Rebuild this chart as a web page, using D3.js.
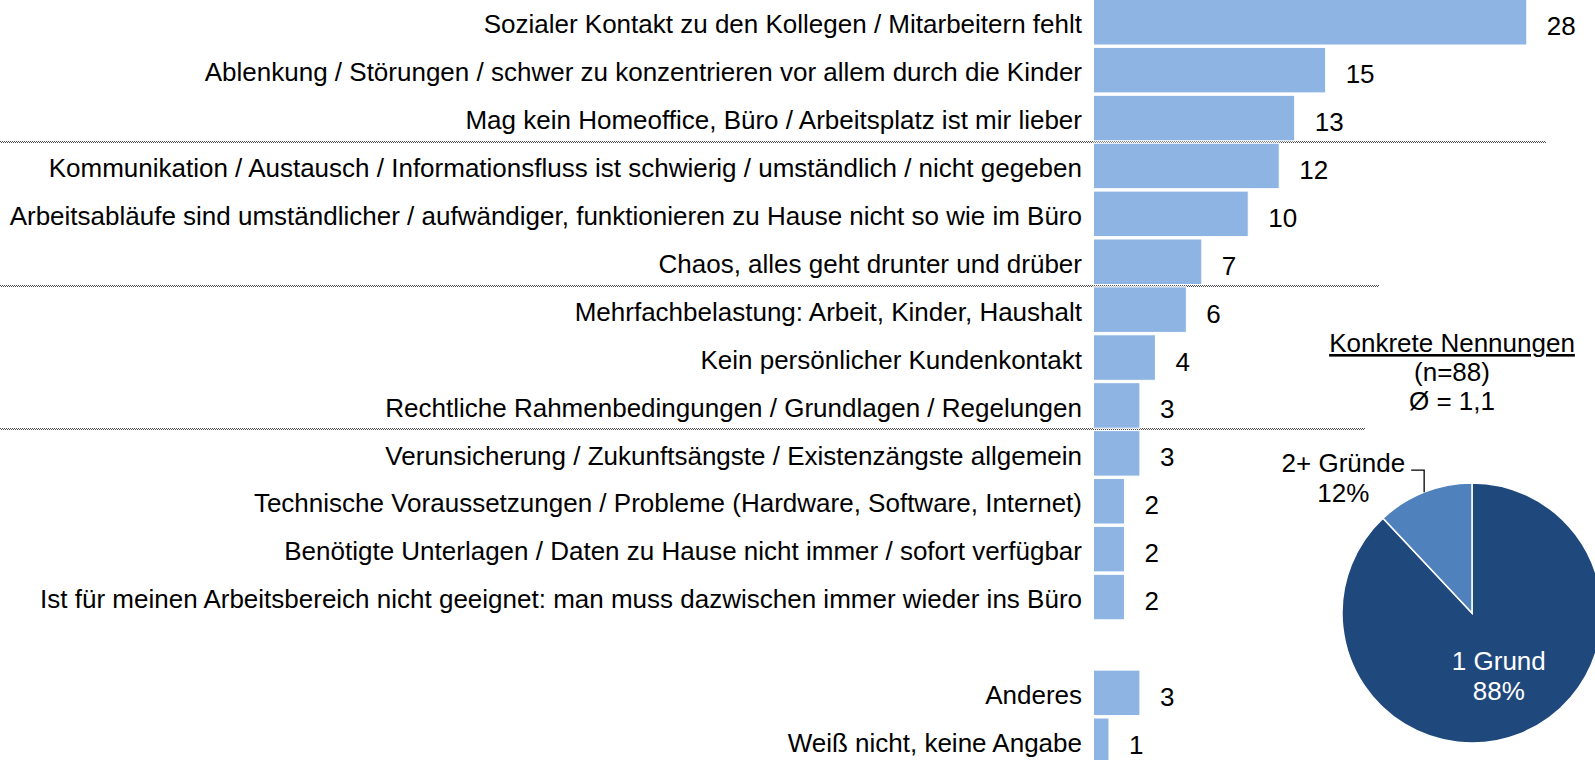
<!DOCTYPE html>
<html lang="de">
<head>
<meta charset="utf-8">
<script src="https://cdn.jsdelivr.net/npm/d3@7"></script>
<style>
  html, body { margin: 0; padding: 0; background: #fff; }
  svg { display: block; font-family: "Liberation Sans", Arial, sans-serif; }
</style>
</head>
<body>
<svg id="chart" width="1595" height="760"></svg>
<script>
// Gründe gegen Homeoffice – Nennungen (Anzahl)
const categories = [
  "Sozialer Kontakt zu den Kollegen / Mitarbeitern fehlt",
  "Ablenkung / Störungen / schwer zu konzentrieren vor allem durch die Kinder",
  "Mag kein Homeoffice, Büro / Arbeitsplatz ist mir lieber",
  "Kommunikation / Austausch / Informationsfluss ist schwierig / umständlich / nicht gegeben",
  "Arbeitsabläufe sind umständlicher / aufwändiger, funktionieren zu Hause nicht so wie im Büro",
  "Chaos, alles geht drunter und drüber",
  "Mehrfachbelastung: Arbeit, Kinder, Haushalt",
  "Kein persönlicher Kundenkontakt",
  "Rechtliche Rahmenbedingungen / Grundlagen / Regelungen",
  "Verunsicherung / Zukunftsängste / Existenzängste allgemein",
  "Technische Voraussetzungen / Probleme (Hardware, Software, Internet)",
  "Benötigte Unterlagen / Daten zu Hause nicht immer / sofort verfügbar",
  "Ist für meinen Arbeitsbereich nicht geeignet: man muss dazwischen immer wieder ins Büro"
];
const values = [28, 15, 13, 12, 10, 7, 6, 4, 3, 3, 2, 2, 2];

const otherCategories = ["Anderes", "Weiß nicht, keine Angabe"];
const otherValues = [3, 1];

// group separators drawn after these category indices
const separatorsAfter = [2, 5, 8];

// Anzahl der genannten Gründe
const pieLabels = ["1 Grund", "2+ Gründe"];
const pieValues = [88, 12];
const pieTitle = "Konkrete Nennungen";
const pieSubtitle = ["(n=88)", "Ø = 1,1"];

const svg = d3.select("#chart");
const FONT = 26;

// rows: main categories, one empty slot, then the remaining answers
const rows = categories.map((c, i) => ({ key: "c" + i, label: c, value: values[i] }));
rows.push({ key: "gap", label: null, value: null });
otherCategories.forEach((c, i) => rows.push({ key: "o" + i, label: c, value: otherValues[i] }));

const y = d3.scaleBand()
  .domain(rows.map(r => r.key))
  .range([-1.7, -1.7 + 16 * 47.9])
  .paddingInner(0.05)
  .paddingOuter(0.025);

const x = d3.scaleLinear().domain([0, 28]).range([1093.5, 1526.8]);

// dotted group separators (behind the bars), two offset dot rows
const sepEnds = [1546, 1379, 1365];
const sepY = d => Math.round(y("c" + (d + 1)) - y.step() * y.paddingInner() / 2);
const sep = svg.append("g");
[0, 1].forEach(k => {
  sep.append("g").selectAll("line")
    .data(separatorsAfter)
    .join("line")
    .attr("x1", 0)
    .attr("x2", (d, i) => sepEnds[i])
    .attr("y1", d => sepY(d) - 0.5 + k)
    .attr("y2", d => sepY(d) - 0.5 + k)
    .attr("stroke", "#4d4d4d")
    .attr("stroke-width", 1)
    .attr("stroke-dasharray", "1 1")
    .attr("stroke-dashoffset", k);
});

const data = rows.filter(r => r.label !== null);

// bars
svg.append("g").selectAll("rect")
  .data(data)
  .join("rect")
  .attr("x", x(0))
  .attr("y", d => y(d.key))
  .attr("width", d => x(d.value) - x(0))
  .attr("height", y.bandwidth())
  .attr("fill", "#8eb4e3")
  .attr("stroke", "#ffffff")
  .attr("stroke-width", 1);

// category labels
svg.append("g").selectAll("text")
  .data(data)
  .join("text")
  .attr("x", x(0) - 11.5)
  .attr("y", d => y(d.key) + y.bandwidth() / 2)
  .attr("dy", "0.43em")
  .attr("text-anchor", "end")
  .attr("font-size", FONT)
  .attr("fill", "#000")
  .text(d => d.label);

// value labels
svg.append("g").selectAll("text")
  .data(data)
  .join("text")
  .attr("x", d => x(d.value) + 20)
  .attr("y", d => y(d.key) + y.bandwidth() / 2)
  .attr("dy", "0.5em")
  .attr("text-anchor", "start")
  .attr("font-size", FONT)
  .attr("fill", "#000")
  .text(d => d.value);

// pie: number of reasons given
const cx = 1472, cy = 613, R = 130;
const pie = d3.pie().sort(null).value(d => d.v);
const arcs = pie(pieLabels.map((l, i) => ({ label: l, v: pieValues[i] })));
const arc = d3.arc().innerRadius(0).outerRadius(R);
const pieColors = ["#1f497d", "#4f81bd"];

const pg = svg.append("g").attr("transform", `translate(${cx},${cy})`);
pg.selectAll("path")
  .data(arcs)
  .join("path")
  .attr("d", arc)
  .attr("fill", (d, i) => pieColors[i])
  .attr("stroke", "#fff")
  .attr("stroke-width", 1.5);

// inside label for the large slice
const inner = d3.arc().innerRadius(R * 0.56).outerRadius(R * 0.56);
const [ix, iy] = inner.centroid(arcs[0]);
const it = pg.append("text")
  .attr("text-anchor", "middle")
  .attr("font-size", FONT)
  .attr("fill", "#fff");
it.append("tspan").attr("x", ix).attr("y", iy - 10.7).text(pieLabels[0]);
it.append("tspan").attr("x", ix).attr("y", iy + 19.3).text(Math.round(pieValues[0] / d3.sum(pieValues) * 100) + "%");

// outside label with leader for the small slice
const edge = d3.arc().innerRadius(R).outerRadius(R);
const [ex, ey] = edge.centroid(arcs[1]);
pg.append("path")
  .attr("d", `M${ex},${ey}L${ex},${ey - 22}L${ex - 13},${ey - 22}`)
  .attr("fill", "none")
  .attr("stroke", "#000")
  .attr("stroke-width", 1.3);

const ot = pg.append("text")
  .attr("text-anchor", "middle")
  .attr("font-size", FONT)
  .attr("fill", "#000");
const l1 = ot.append("tspan").attr("y", ey - 20.3).text(pieLabels[1]);
const w1 = l1.node().getComputedTextLength();
const lx = ex - 19 - w1 / 2;
l1.attr("x", lx);
ot.append("tspan").attr("x", lx).attr("y", ey + 9.7)
  .text(Math.round(pieValues[1] / d3.sum(pieValues) * 100) + "%");

// pie heading
const tg = svg.append("g").attr("text-anchor", "middle").attr("font-size", FONT).attr("fill", "#000");
tg.append("text").attr("x", 1452).attr("y", 352)
  .style("text-decoration", "underline")
  .text(pieTitle);
pieSubtitle.forEach((s, i) => {
  tg.append("text").attr("x", 1452).attr("y", 381 + i * 29).text(s);
});
</script>
</body>
</html>
